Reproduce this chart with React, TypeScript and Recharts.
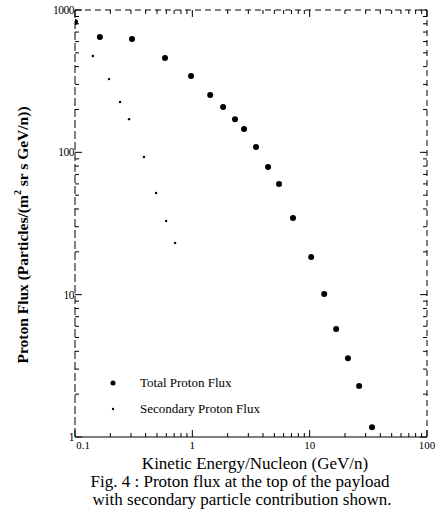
import React from "react";
import { ScatterChart, Scatter, XAxis, YAxis, Legend } from "recharts";

// Kinetic energy per nucleon (GeV/n) and proton flux values
const totalEnergy = [0.1, 0.163, 0.306, 0.585, 0.975, 1.42, 1.83, 2.31, 2.76, 3.49, 4.42, 5.48, 7.21, 10.3, 13.3, 16.8, 21.2, 26.4, 34.0];
const totalFlux = [824, 646, 625, 460, 344, 253, 208, 171, 146, 109, 78.9, 59.8, 34.5, 18.4, 10.1, 5.73, 3.58, 2.28, 1.17];

const secondaryEnergy = [0.142, 0.195, 0.242, 0.289, 0.387, 0.491, 0.598, 0.713];
const secondaryFlux = [475, 327, 226, 171, 92.7, 51.8, 32.9, 23.1];

const xMajor = [0.1, 1, 10, 100];
const xMajorLabels = ["0.1", "1", "10", "100"];
const yMajor = [1, 10, 100, 1000];
const yMajorLabels = ["1", "10", "100", "1000"];

const seriesNames = ["Total Proton Flux", "Secondary Proton Flux"];

const minorMultipliers = [2, 3, 4, 5, 6, 7, 8, 9];
const buildTicks = (majors: number[]) => {
  const t: number[] = [];
  majors.forEach((m, i) => {
    t.push(m);
    if (i < majors.length - 1) minorMultipliers.forEach((k) => t.push(+(m * k).toPrecision(3)));
  });
  return t;
};
const xTicks = buildTicks(xMajor);
const yTicks = buildTicks(yMajor);

const totalData = totalEnergy.map((x, i) => ({ x, y: totalFlux[i] }));
const secondaryData = secondaryEnergy.map((x, i) => ({ x, y: secondaryFlux[i] }));

const FONT = "'Liberation Serif', 'DejaVu Serif', serif";

const isMajor = (arr: number[], v: number) => arr.some((m) => Math.abs(m - v) < 1e-9);

const BottomTick = (p: any) => {
  const v = p.payload.value;
  const major = isMajor(xMajor, v);
  const idx = xMajor.findIndex((m) => Math.abs(m - v) < 1e-9);
  return (
    <g>
      <line x1={p.x} y1={p.y} x2={p.x} y2={p.y - (major ? 7 : 4)} stroke="#000" strokeWidth={1} />
      {major && (
        <text x={p.x + (v === 0.1 ? 8 : 0)} y={p.y + 12} textAnchor="middle" fontFamily={FONT} fontSize={11} fill="#000">
          {xMajorLabels[idx]}
        </text>
      )}
    </g>
  );
};
const TopTick = (p: any) => {
  const major = isMajor(xMajor, p.payload.value);
  return <line x1={p.x} y1={p.y} x2={p.x} y2={p.y + (major ? 7 : 4)} stroke="#000" strokeWidth={1} />;
};
const LeftTick = (p: any) => {
  const v = p.payload.value;
  const major = isMajor(yMajor, v);
  const idx = yMajor.findIndex((m) => Math.abs(m - v) < 1e-9);
  return (
    <g>
      <line x1={p.x} y1={p.y} x2={p.x + (major ? 7 : 4)} y2={p.y} stroke="#000" strokeWidth={1} />
      {major && (
        <text x={p.x - 1} y={p.y + 4} textAnchor="end" fontFamily={FONT} fontSize={11.5} fill="#000" letterSpacing={-0.5}>
          {yMajorLabels[idx]}
        </text>
      )}
    </g>
  );
};
const RightTick = (p: any) => {
  const major = isMajor(yMajor, p.payload.value);
  return <line x1={p.x} y1={p.y} x2={p.x - (major ? 7 : 4)} y2={p.y} stroke="#000" strokeWidth={1} />;
};

const BigDot = (p: any) => <circle cx={p.cx} cy={p.cy} r={3} fill="#000" />;
const SmallDot = (p: any) => <circle cx={p.cx} cy={p.cy} r={1.2} fill="#000" />;

const renderLegend = () => (
  <div style={{ fontFamily: FONT, fontSize: 13, color: "#000" }}>
    <div style={{ display: "flex", alignItems: "center", height: 26 }}>
      <svg width={37} height={10}><circle cx={10} cy={5} r={2.5} fill="#000" /></svg>
      <span>{seriesNames[0]}</span>
    </div>
    <div style={{ display: "flex", alignItems: "center", height: 26 }}>
      <svg width={37} height={10}><circle cx={10} cy={5} r={1.2} fill="#000" /></svg>
      <span>{seriesNames[1]}</span>
    </div>
  </div>
);

export default function App() {
  return (
    <div style={{ position: "absolute", left: 0, top: 0, width: 441, height: 517, background: "#fff" }}>
      <ScatterChart width={441} height={517} margin={{ top: 9, right: 13, bottom: 79, left: 74 }}>
        <XAxis
          xAxisId="b"
          dataKey="x"
          type="number"
          scale="log"
          domain={[0.1, 100]}
          ticks={xTicks}
          interval={0}
          height={1}
          tickSize={0}
          tickMargin={0}
          tickLine={false}
          tick={<BottomTick />}
          axisLine={{ stroke: "#000", strokeWidth: 1 }}
          allowDataOverflow
        />
        <XAxis
          xAxisId="t"
          orientation="top"
          dataKey="x"
          type="number"
          scale="log"
          domain={[0.1, 100]}
          ticks={xTicks}
          interval={0}
          height={1}
          tickSize={0}
          tickMargin={0}
          tickLine={false}
          tick={<TopTick />}
          axisLine={{ stroke: "#000", strokeWidth: 1, strokeDasharray: "6 4" }}
          allowDataOverflow
        />
        <YAxis
          yAxisId="l"
          dataKey="y"
          type="number"
          scale="log"
          domain={[1, 1000]}
          ticks={yTicks}
          interval={0}
          width={1}
          tickSize={0}
          tickMargin={0}
          tickLine={false}
          tick={<LeftTick />}
          axisLine={{ stroke: "#000", strokeWidth: 1, strokeDasharray: "8 3" }}
          allowDataOverflow
        />
        <YAxis
          yAxisId="r"
          orientation="right"
          dataKey="y"
          type="number"
          scale="log"
          domain={[1, 1000]}
          ticks={yTicks}
          interval={0}
          width={1}
          tickSize={0}
          tickMargin={0}
          tickLine={false}
          tick={<RightTick />}
          axisLine={{ stroke: "#000", strokeWidth: 1, strokeDasharray: "6 4" }}
          allowDataOverflow
        />
        <Scatter name={seriesNames[0]} data={totalData} xAxisId="b" yAxisId="l" shape={<BigDot />} isAnimationActive={false} />
        <Scatter name={seriesNames[1]} data={secondaryData} xAxisId="b" yAxisId="l" shape={<SmallDot />} isAnimationActive={false} />
        <Legend
          content={renderLegend}
          layout="horizontal"
          align="center"
          verticalAlign="middle"
          wrapperStyle={{ left: 103, top: 370, width: 200, height: 52 }}
        />
      </ScatterChart>
      <div
        style={{
          position: "absolute",
          left: 22,
          top: 235,
          transform: "translate(-50%, -50%) rotate(-90deg)",
          whiteSpace: "nowrap",
          fontFamily: FONT,
          fontSize: 15.5,
          fontWeight: "bold",
          color: "#000",
        }}
      >
        Proton Flux (Particles/(m<sup style={{ fontSize: 10 }}>2</sup> sr s GeV/n))
      </div>
      <div style={{ position: "absolute", left: 0, width: 441, top: 455, textAlign: "center", fontFamily: FONT, fontSize: 17, color: "#000", lineHeight: "18px" }}>
        <div style={{ marginLeft: 69 }}>Kinetic Energy/Nucleon (GeV/n)</div>
        <div style={{ marginLeft: 39 }}>Fig. 4 : Proton flux at the top of the payload</div>
        <div style={{ marginLeft: 43 }}>with secondary particle contribution shown.</div>
      </div>
    </div>
  );
}
